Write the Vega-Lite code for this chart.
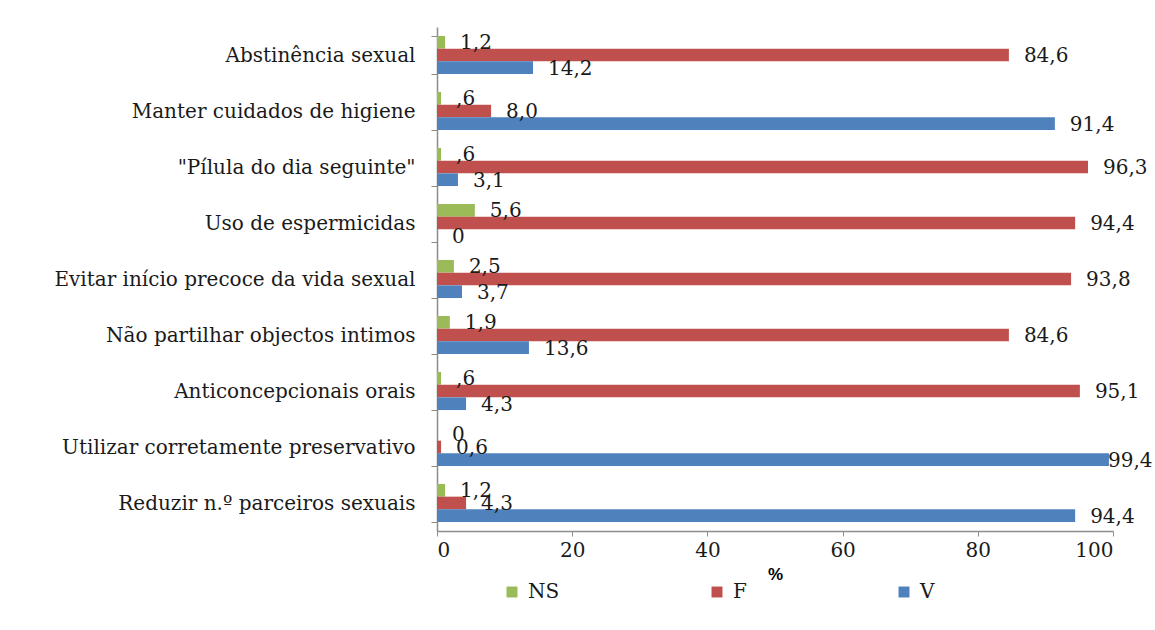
{
  "$schema": "https://vega.github.io/schema/vega-lite/v6.json",
  "width": 676,
  "height": 504,
  "autosize": "none",
  "padding": {"left": 437, "top": 27, "right": 42, "bottom": 99},
  "background": "white",
  "config": {
    "view": {"stroke": null},
    "font": "DejaVu Serif"
  },
  "data": {
    "values": [
      {"cat": "Abstinência sexual", "grp": "NS", "val": 1.2, "label": "1,2"},
      {"cat": "Abstinência sexual", "grp": "F", "val": 84.6, "label": "84,6"},
      {"cat": "Abstinência sexual", "grp": "V", "val": 14.2, "label": "14,2"},
      {"cat": "Manter cuidados de higiene", "grp": "NS", "val": 0.6, "label": ",6"},
      {"cat": "Manter cuidados de higiene", "grp": "F", "val": 8.0, "label": "8,0"},
      {"cat": "Manter cuidados de higiene", "grp": "V", "val": 91.4, "label": "91,4"},
      {"cat": "\"Pílula do dia seguinte\"", "grp": "NS", "val": 0.6, "label": ",6"},
      {"cat": "\"Pílula do dia seguinte\"", "grp": "F", "val": 96.3, "label": "96,3"},
      {"cat": "\"Pílula do dia seguinte\"", "grp": "V", "val": 3.1, "label": "3,1"},
      {"cat": "Uso de espermicidas", "grp": "NS", "val": 5.6, "label": "5,6"},
      {"cat": "Uso de espermicidas", "grp": "F", "val": 94.4, "label": "94,4"},
      {"cat": "Uso de espermicidas", "grp": "V", "val": 0, "label": "0"},
      {"cat": "Evitar início precoce da vida sexual", "grp": "NS", "val": 2.5, "label": "2,5"},
      {"cat": "Evitar início precoce da vida sexual", "grp": "F", "val": 93.8, "label": "93,8"},
      {"cat": "Evitar início precoce da vida sexual", "grp": "V", "val": 3.7, "label": "3,7"},
      {"cat": "Não partilhar objectos intimos", "grp": "NS", "val": 1.9, "label": "1,9"},
      {"cat": "Não partilhar objectos intimos", "grp": "F", "val": 84.6, "label": "84,6"},
      {"cat": "Não partilhar objectos intimos", "grp": "V", "val": 13.6, "label": "13,6"},
      {"cat": "Anticoncepcionais orais", "grp": "NS", "val": 0.6, "label": ",6"},
      {"cat": "Anticoncepcionais orais", "grp": "F", "val": 95.1, "label": "95,1"},
      {"cat": "Anticoncepcionais orais", "grp": "V", "val": 4.3, "label": "4,3"},
      {"cat": "Utilizar corretamente preservativo", "grp": "NS", "val": 0, "label": "0"},
      {"cat": "Utilizar corretamente preservativo", "grp": "F", "val": 0.6, "label": "0,6"},
      {"cat": "Utilizar corretamente preservativo", "grp": "V", "val": 99.4, "label": "99,4"},
      {"cat": "Reduzir n.º parceiros sexuais", "grp": "NS", "val": 1.2, "label": "1,2"},
      {"cat": "Reduzir n.º parceiros sexuais", "grp": "F", "val": 4.3, "label": "4,3"},
      {"cat": "Reduzir n.º parceiros sexuais", "grp": "V", "val": 94.4, "label": "94,4"}
    ]
  },
  "encoding": {
    "y": {
      "field": "cat",
      "type": "nominal",
      "sort": null,
      "scale": {"paddingInner": 0.32, "paddingOuter": 0.16},
      "axis": {
        "title": null,
        "domainColor": "#8c8c8c",
        "domainWidth": 1.5,
        "tickColor": "#8c8c8c",
        "tickSize": 6,
        "tickBand": "extent",
        "labelFont": "DejaVu Serif",
        "labelFontSize": 20,
        "labelColor": "#1a1a1a",
        "labelPadding": 16,
        "labelLimit": 500
      }
    },
    "yOffset": {
      "field": "grp",
      "type": "nominal",
      "sort": ["NS", "F", "V"],
      "scale": {"paddingInner": 0, "paddingOuter": 0}
    },
    "x": {
      "field": "val",
      "type": "quantitative",
      "scale": {"domain": [0, 100], "nice": false},
      "axis": {
        "title": "%",
        "titleFont": "Liberation Sans",
        "titleFontWeight": "bold",
        "titleFontSize": 17,
        "titleColor": "#000000",
        "titlePadding": 6,
        "values": [0, 20, 40, 60, 80, 100],
        "grid": false,
        "domainColor": "#8c8c8c",
        "domainWidth": 1.5,
        "tickColor": "#8c8c8c",
        "tickSize": 5,
        "labelFont": "DejaVu Serif",
        "labelFontSize": 20,
        "labelColor": "#1a1a1a",
        "labelPadding": 4
      }
    }
  },
  "layer": [
    {
      "mark": {"type": "bar"},
      "encoding": {
        "color": {
          "field": "grp",
          "type": "nominal",
          "scale": {"domain": ["NS", "F", "V"], "range": ["#9BBB59", "#C0504D", "#4F81BD"]},
          "legend": {
            "title": null,
            "orient": "none",
            "direction": "horizontal",
            "legendX": 65,
            "legendY": 555,
            "symbolType": "square",
            "symbolSize": 120,
            "symbolStrokeWidth": 0,
            "gridAlign": "none",
            "columnPadding": 147,
            "labelFont": "DejaVu Serif",
            "labelFontSize": 20,
            "labelColor": "#1a1a1a",
            "labelOffset": 6
          }
        }
      }
    },
    {
      "transform": [{"filter": "datum.val < 99"}],
      "mark": {"type": "text", "align": "left", "baseline": "middle", "dx": 15, "dy": 1, "font": "DejaVu Serif", "fontSize": 20, "color": "#1a1a1a"},
      "encoding": {
        "text": {"field": "label", "type": "nominal"}
      }
    },
    {
      "transform": [{"filter": "datum.val >= 99"}],
      "mark": {"type": "text", "align": "left", "baseline": "middle", "dx": -1, "dy": 1, "font": "DejaVu Serif", "fontSize": 20, "color": "#1a1a1a"},
      "encoding": {
        "text": {"field": "label", "type": "nominal"}
      }
    }
  ]
}
